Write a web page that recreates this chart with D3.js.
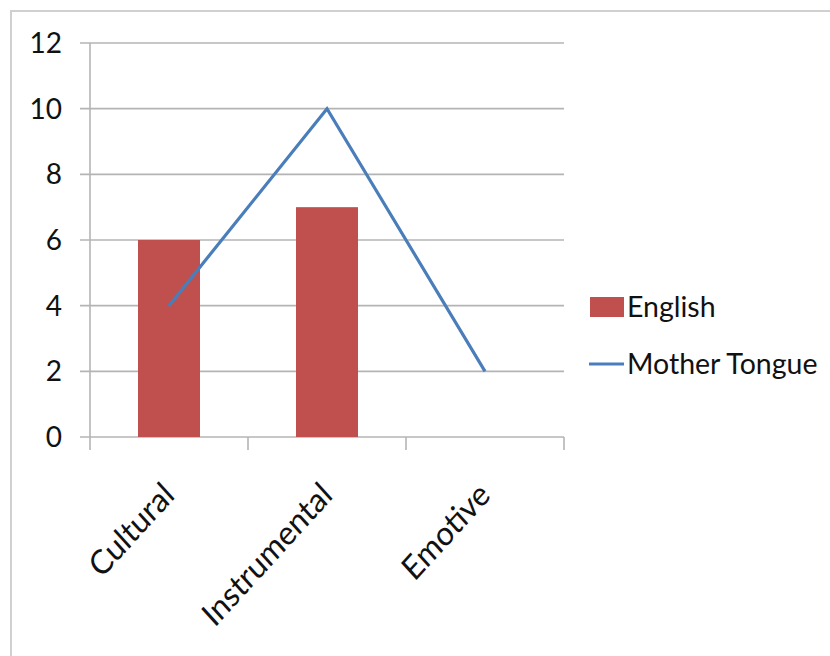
<!DOCTYPE html>
<html><head><meta charset="utf-8">
<script src="https://cdn.jsdelivr.net/npm/d3@7"></script>
<style>body{margin:0;background:#fff}svg{display:block}text{font-family:Lato,"Open Sans",sans-serif;fill:#111}</style>
</head><body><svg id="c" width="830" height="656"></svg>
<script>
const categories = ["Cultural", "Instrumental", "Emotive"];
const english = [6, 7, null];
const motherTongue = [4, 10, 2];
const yTicks = [0, 2, 4, 6, 8, 10, 12];
const seriesNames = ["English", "Mother Tongue"];
const colors = {English: "#C0504D", "Mother Tongue": "#4A7EBB"};

const svg = d3.select("#c");
svg.append("path").attr("d", "M11,656 V11 H830").attr("fill", "none").attr("stroke", "#d0d0d0").attr("stroke-width", 2);

const pL = 90, pR = 564, pT = 43, pB = 437;
const x = d3.scaleBand().domain(categories).range([pL, pR]).paddingInner(0).paddingOuter(0);
const y = d3.scaleLinear().domain([0, 12]).range([pB, pT]);

svg.append("g").selectAll("line").data(yTicks).join("line")
  .attr("x1", pL - 10).attr("x2", pR).attr("y1", d => y(d)).attr("y2", d => y(d))
  .attr("stroke", "#b4b4b4").attr("stroke-width", 1.6);
svg.append("line").attr("x1", pL).attr("x2", pL).attr("y1", pT).attr("y2", pB)
  .attr("stroke", "#b4b4b4").attr("stroke-width", 1.6);
const xt = categories.map(c => x(c)).concat([pR]);
svg.append("g").selectAll("line").data(xt).join("line")
  .attr("x1", d => d).attr("x2", d => d).attr("y1", pB).attr("y2", pB + 13)
  .attr("stroke", "#b4b4b4").attr("stroke-width", 1.6);

svg.append("g").selectAll("text").data(yTicks).join("text")
  .attr("x", 62).attr("y", d => y(d)).attr("dy", "0.36em").attr("text-anchor", "end")
  .attr("font-size", 28).text(d => d);

const bw = 62;
svg.append("g").selectAll("rect").data(categories.map((c, i) => ({c, v: english[i]})).filter(d => d.v != null)).join("rect")
  .attr("x", d => x(d.c) + x.bandwidth() / 2 - bw / 2).attr("width", bw)
  .attr("y", d => y(d.v)).attr("height", d => y(0) - y(d.v))
  .attr("fill", colors.English);

const line = d3.line().x((d, i) => x(categories[i]) + x.bandwidth() / 2).y(d => y(d));
svg.append("path").datum(motherTongue).attr("d", line).attr("fill", "none")
  .attr("stroke", colors["Mother Tongue"]).attr("stroke-width", 3.2);

svg.append("g").selectAll("text").data(categories).join("text")
  .attr("text-anchor", "end").attr("font-size", 30.5)
  .attr("transform", c => `translate(${x(c) + x.bandwidth() / 2 + 7},${pB + 60}) scale(1,1.1) rotate(-45)`)
  .text(c => c);

const lg = svg.append("g");
lg.append("rect").attr("x", 590).attr("y", 297).attr("width", 34).attr("height", 20).attr("fill", colors.English);
lg.append("line").attr("x1", 589).attr("x2", 624).attr("y1", 364).attr("y2", 364).attr("stroke", colors["Mother Tongue"]).attr("stroke-width", 3.2);
lg.selectAll("text").data(seriesNames).join("text")
  .attr("x", 627).attr("y", (d, i) => 307 + i * 57).attr("dy", "0.36em").attr("font-size", 28.5).text(d => d);
</script></body></html>
